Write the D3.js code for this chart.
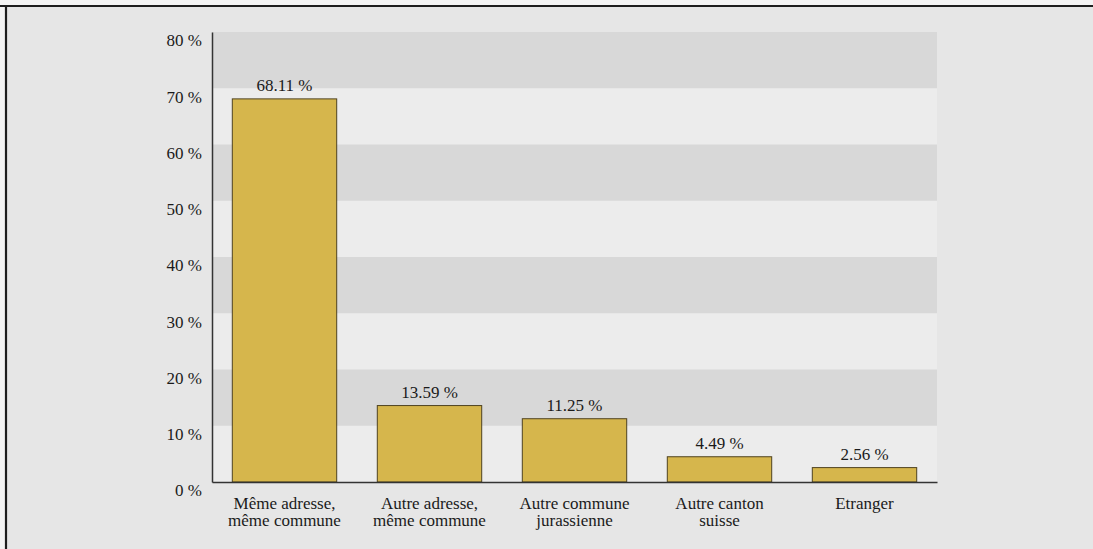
<!DOCTYPE html>
<html>
<head>
<meta charset="utf-8">
<script src="https://cdn.jsdelivr.net/npm/d3@7"></script>
<style>
  html, body { margin: 0; padding: 0; overflow: hidden; background: #f4f4f4; }
  svg { display: block; }
  text { font-family: "Liberation Serif", "DejaVu Serif", serif; fill: #1a1a1a; }
</style>
</head>
<body>
<div id="chart"></div>
<script>
// categories, values and tick labels
var categories = ["meme-adresse", "autre-adresse", "autre-commune", "autre-canton", "etranger"];
var catLabels = [
    ["Même adresse,", "même commune"],
    ["Autre adresse,", "même commune"],
    ["Autre commune", "jurassienne"],
    ["Autre canton", "suisse"],
    ["Etranger"]
];
var values = [68.11, 13.59, 11.25, 4.49, 2.56];
var yTicks = [0, 10, 20, 30, 40, 50, 60, 70, 80];
var stripes = [10, 30, 50, 70];   // darker bands start here, 10 % high

var W = 1093, H = 549;
var margin = {top: 32, right: 156, bottom: 67, left: 212};

var svg = d3.select("#chart")
    .append("svg")
    .attr("width", W)
    .attr("height", H);

// paper + frame
svg.append("rect")
    .attr("x", 6).attr("y", 6)
    .attr("width", W - 6).attr("height", H - 6)
    .attr("fill", "#e6e6e6");
svg.append("line")
    .attr("x1", 0).attr("x2", W).attr("y1", 6).attr("y2", 6)
    .attr("stroke", "#1e1e1e").attr("stroke-width", 2.2);
svg.append("line")
    .attr("x1", 6).attr("x2", 6).attr("y1", 5).attr("y2", H)
    .attr("stroke", "#1e1e1e").attr("stroke-width", 2.2);

var x = d3.scaleBand()
    .domain(categories)
    .range([margin.left, W - margin.right])
    .paddingInner(0.28)
    .paddingOuter(0.14);

var y = d3.scaleLinear()
    .domain([0, 80])
    .range([H - margin.bottom, margin.top]);

// plot background: light, then darker stripes
svg.append("rect")
    .attr("x", margin.left)
    .attr("y", y(80))
    .attr("width", W - margin.right - margin.left)
    .attr("height", y(0) - y(80))
    .attr("fill", "#ececec");

svg.append("g")
    .selectAll("rect")
    .data(stripes)
    .enter()
    .append("rect")
    .attr("x", margin.left)
    .attr("y", function (d) { return y(d + 10); })
    .attr("width", W - margin.right - margin.left)
    .attr("height", function (d) { return y(d) - y(d + 10); })
    .attr("fill", "#d8d8d8");

// bars
svg.append("g")
    .selectAll("rect")
    .data(values)
    .enter()
    .append("rect")
    .attr("x", function (d, i) { return x(categories[i]); })
    .attr("y", function (d) { return y(d); })
    .attr("width", x.bandwidth())
    .attr("height", function (d) { return y(0) - y(d); })
    .attr("fill", "#d6b64c")
    .attr("stroke", "#4f4320")
    .attr("stroke-width", 1);

// value labels
svg.append("g")
    .selectAll("text")
    .data(values)
    .enter()
    .append("text")
    .attr("x", function (d, i) { return x(categories[i]) + x.bandwidth() / 2; })
    .attr("y", function (d) { return y(d) - 8; })
    .attr("text-anchor", "middle")
    .style("font-size", "17px")
    .text(function (d) { return d.toFixed(2) + " %"; });

// Y axis (labels sit a bit below their gridline in the original)
var yAxis = svg.append("g")
    .attr("transform", "translate(" + margin.left + ",0)")
    .call(d3.axisLeft(y)
        .tickValues(yTicks)
        .tickSize(0)
        .tickPadding(10)
        .tickFormat(function (d) { return d + " %"; }));
yAxis.select(".domain").attr("stroke", "#333").attr("stroke-width", 1.5);
yAxis.selectAll(".tick text")
    .attr("dy", "0.82em")
    .attr("y", 0)
    .style("font-size", "17px")
    .attr("fill", "#1a1a1a");

// X axis
var xAxis = svg.append("g")
    .attr("transform", "translate(0," + y(0) + ")")
    .call(d3.axisBottom(x).tickSize(0).tickFormat(""));
xAxis.select(".domain").attr("stroke", "#333").attr("stroke-width", 1.5);

xAxis.selectAll(".tick")
    .append("text")
    .attr("text-anchor", "middle")
    .style("font-size", "17px")
    .each(function (d) {
        var lines = catLabels[categories.indexOf(d)];
        var t = d3.select(this);
        lines.forEach(function (s, k) {
            t.append("tspan")
                .attr("x", 0)
                .attr("y", 27 + k * 17)
                .text(s);
        });
    });
</script>
</body>
</html>
